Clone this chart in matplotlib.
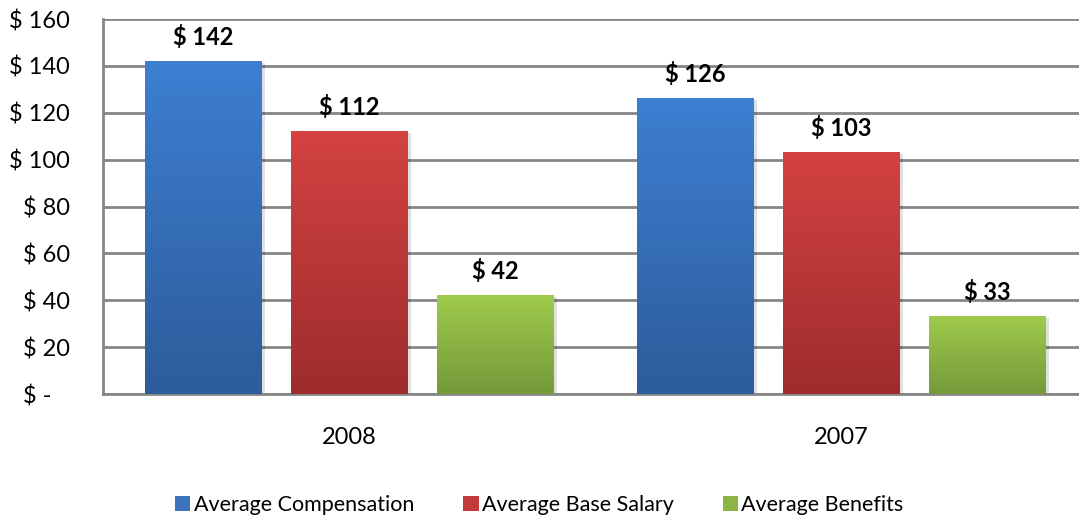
import numpy as np
import matplotlib.pyplot as plt
from matplotlib.colors import LinearSegmentedColormap
from matplotlib.patches import Patch

plt.rcParams['font.family'] = ['Lato', 'DejaVu Sans']

years = ['2008', '2007']
series = ['Average Compensation', 'Average Base Salary', 'Average Benefits']
compensation = [142, 126]
base_salary = [112, 103]
benefits = [42, 33]
values = [compensation, base_salary, benefits]

# (top colour, bottom colour) for each series gradient
grad_colors = [('#3d7fd2', '#2d5c9a'), ('#d44242', '#9e2c2c'), ('#9fcb4c', '#76993a')]
legend_colors = ['#3b73bd', '#c33a3a', '#8db544']

fig = plt.figure(figsize=(10.79, 5.16), dpi=100)
ax = fig.add_axes([103 / 1079, 122 / 516, 976 / 1079, 375 / 516])

x = np.arange(len(years))
width = 0.236
offsets = [-0.297, 0, 0.297]

grad = np.linspace(0, 1, 256).reshape(-1, 1)
for i, vals in enumerate(values):
    cmap = LinearSegmentedColormap.from_list('g%d' % i, [grad_colors[i][1], grad_colors[i][0]])
    for xi, v in zip(x, vals):
        left = xi + offsets[i] - width / 2
        # soft shadow
        ax.bar(xi + offsets[i] + 0.004, v, width=width + 0.008, bottom=-0.6,
               color='#000000', alpha=0.12, zorder=2, linewidth=0)
        ax.imshow(grad, cmap=cmap, origin='lower', aspect='auto',
                  extent=(left, left + width, 0, v), zorder=3)
        ax.text(xi + offsets[i], v + 10.5, '$ %d' % v, ha='center', va='center',
                fontsize=17, fontweight='bold', zorder=4)

ax.set_xlim(-0.5, -0.5 + 976 / 492)
ax.set_ylim(0, 160)
ax.set_yticks(range(0, 161, 20))
ax.set_yticklabels(['$ -   '] + ['$ %d' % t for t in range(20, 161, 20)], fontsize=17)
ax.set_xticks(x)
ax.set_xticklabels(years, fontsize=17)
ax.tick_params(axis='y', length=0, pad=24)
ax.tick_params(axis='x', length=0, pad=24)

ax.grid(axis='y', color='#868686', linewidth=2, zorder=1)
ax.set_axisbelow(True)
for side in ['top', 'right']:
    ax.spines[side].set_visible(False)
ax.spines['left'].set_color('#868686')
ax.spines['left'].set_linewidth(2)
ax.spines['bottom'].set_color('#868686')
ax.spines['bottom'].set_linewidth(2)

handles = [Patch(facecolor=c, edgecolor='none') for c in legend_colors]
fig.legend(handles, series, loc='lower center', bbox_to_anchor=(0.5, -0.035), ncol=3,
           frameon=False, fontsize=15.5, handlelength=0.7, handleheight=0.7,
           handletextpad=0.15, columnspacing=2.3)

fig.savefig('out.png', dpi=100)
